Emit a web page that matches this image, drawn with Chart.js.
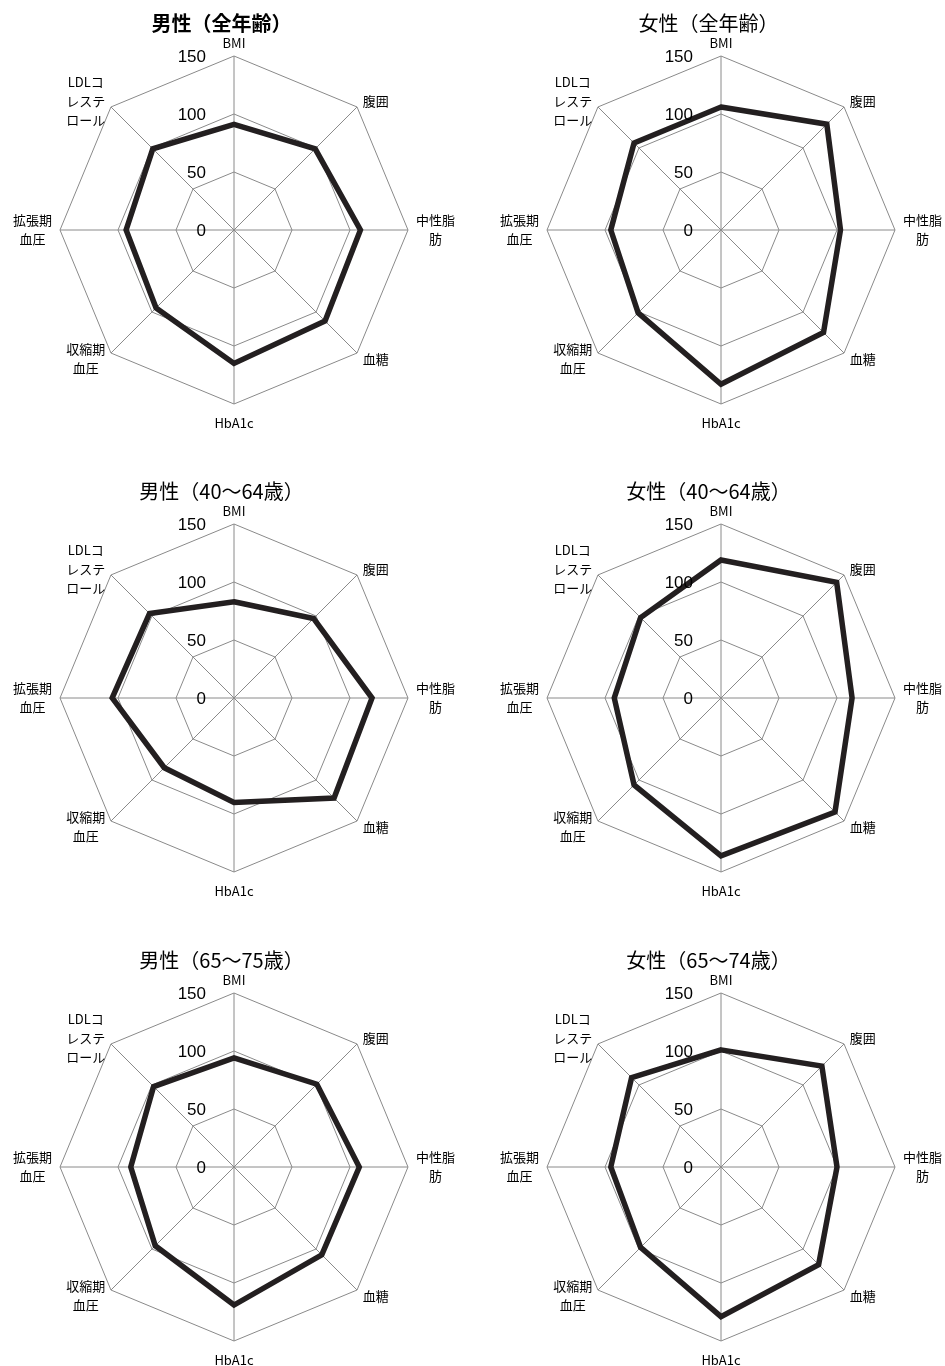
<!DOCTYPE html>
<html lang="ja">
<head>
<meta charset="utf-8">
<title>健診結果 レーダーチャート</title>
<script src="https://cdn.jsdelivr.net/npm/chart.js@4.4.1/dist/chart.umd.min.js"></script>
<style>
  html, body { margin: 0; padding: 0; background: #fff; }
  #page { position: relative; width: 945px; height: 1366px; overflow: hidden; }
  .cell { position: absolute; }
</style>
</head>
<body>
<div id="page"></div>
<script>
// 項目（改行は配列で）
const categories = [
  "BMI",
  "腹囲",
  ["中性脂", "肪"],
  "血糖",
  "HbA1c",
  ["収縮期", "血圧"],
  ["拡張期", "血圧"],
  ["LDLコ", "レステ", "ロール"],
];
const tickValues = [0, 50, 100, 150];

const titles = [
  "男性（全年齢）",
  "女性（全年齢）",
  "男性（40～64歳）",
  "女性（40～64歳）",
  "男性（65～75歳）",
  "女性（65～74歳）",
];

const maleAll = [91, 99, 109, 111, 115, 95, 93, 99];
const femaleAll = [106, 129, 103, 125, 133, 101, 95, 106];
const male40to64 = [83, 97, 119, 122, 90, 85, 105, 103];
const female40to64 = [119, 141, 113, 139, 136, 106, 92, 98];
const male65to75 = [94, 101, 108, 107, 119, 96, 89, 98];
const female65to74 = [101, 123, 100, 119, 129, 98, 95, 109];

const series = [maleAll, femaleAll, male40to64, female40to64, male65to75, female65to74];

const R = 174;
const colLeft = [0, 472];
const colWidth = [472, 473];
const colCenter = [234, 249];
const rowTop = [0, 468, 936];
const rowHeight = [468, 468, 430];
const rowCenter = [230, 230, 231];

const labelFont = "13px 'Noto Sans CJK JP', sans-serif";
const tickFont = "17px 'Liberation Sans', Arial, sans-serif";

const radarText = {
  id: "radarText",
  afterDraw(chart, args, opts) {
    const { ctx } = chart;
    const scale = chart.scales.r;
    const cx = scale.xCenter;
    const cy = scale.yCenter;
    ctx.save();
    ctx.fillStyle = "#000";

    // タイトル
    ctx.font = (opts.bold ? "bold " : "") + "20px 'Noto Sans CJK JP', sans-serif";
    ctx.textAlign = "center";
    ctx.textBaseline = "middle";
    ctx.fillText(opts.title, cx - 12.5, cy - 207);

    // 目盛
    ctx.font = tickFont;
    ctx.textAlign = "right";
    tickValues.forEach((v) => {
      const d = scale.getDistanceFromCenterForValue(v);
      ctx.fillText(String(v), cx - 28, cy - d + 1);
    });

    // 項目名
    ctx.font = labelFont;
    ctx.textAlign = "center";
    const lh = 19;
    chart.data.labels.forEach((label, i) => {
      const lines = Array.isArray(label) ? label : [label];
      const p = scale.getPointPosition(i, scale.drawingArea + 8);
      const deg = Math.round((i * 360) / chart.data.labels.length);
      const bw = Math.max(...lines.map((t) => ctx.measureText(t).width));
      const bh = lines.length * lh;
      let x, top;
      if (deg === 0) {
        x = p.x;
        top = p.y - 5 - lh / 2;
      } else if (deg === 180) {
        x = p.x;
        top = p.y + 11 - lh / 2;
      } else if (deg < 180) {
        x = p.x + bw / 2;
        top = p.y - bh / 2;
      } else {
        x = p.x - bw / 2;
        top = p.y - bh / 2;
      }
      lines.forEach((t, k) => ctx.fillText(t, x, top + k * lh + lh / 2));
    });
    ctx.restore();
  },
};

const page = document.getElementById("page");

series.forEach((values, n) => {
  const col = n % 2;
  const row = Math.floor(n / 2);
  const div = document.createElement("div");
  div.className = "cell";
  div.style.left = colLeft[col] + "px";
  div.style.top = rowTop[row] + "px";
  div.style.width = colWidth[col] + "px";
  div.style.height = rowHeight[row] + "px";
  const canvas = document.createElement("canvas");
  div.appendChild(canvas);
  page.appendChild(div);

  const padLeft = colCenter[col] - R;
  const padTop = rowCenter[row] - R;

  new Chart(canvas, {
    type: "radar",
    data: {
      labels: categories,
      datasets: [
        {
          label: titles[n],
          data: values,
          borderColor: "#231f20",
          borderWidth: 5.5,
          borderJoinStyle: "miter",
          fill: false,
          pointRadius: 0,
          pointHoverRadius: 0,
          tension: 0,
        },
      ],
    },
    options: {
      responsive: true,
      maintainAspectRatio: false,
      animation: false,
      layout: {
        padding: {
          left: padLeft,
          right: colWidth[col] - padLeft - 2 * R,
          top: padTop,
          bottom: rowHeight[row] - padTop - 2 * R,
        },
      },
      scales: {
        r: {
          min: 0,
          max: 150,
          ticks: {
            stepSize: 50,
            display: false,
          },
          grid: {
            color: "#8a8a8a",
            lineWidth: 1,
          },
          angleLines: {
            color: "#8a8a8a",
            lineWidth: 1,
          },
          pointLabels: {
            display: false,
          },
        },
      },
      plugins: {
        legend: { display: false },
        tooltip: { enabled: false },
        radarText: { title: titles[n], bold: n === 0 },
      },
    },
    plugins: [radarText],
  });
});
</script>
</body>
</html>
